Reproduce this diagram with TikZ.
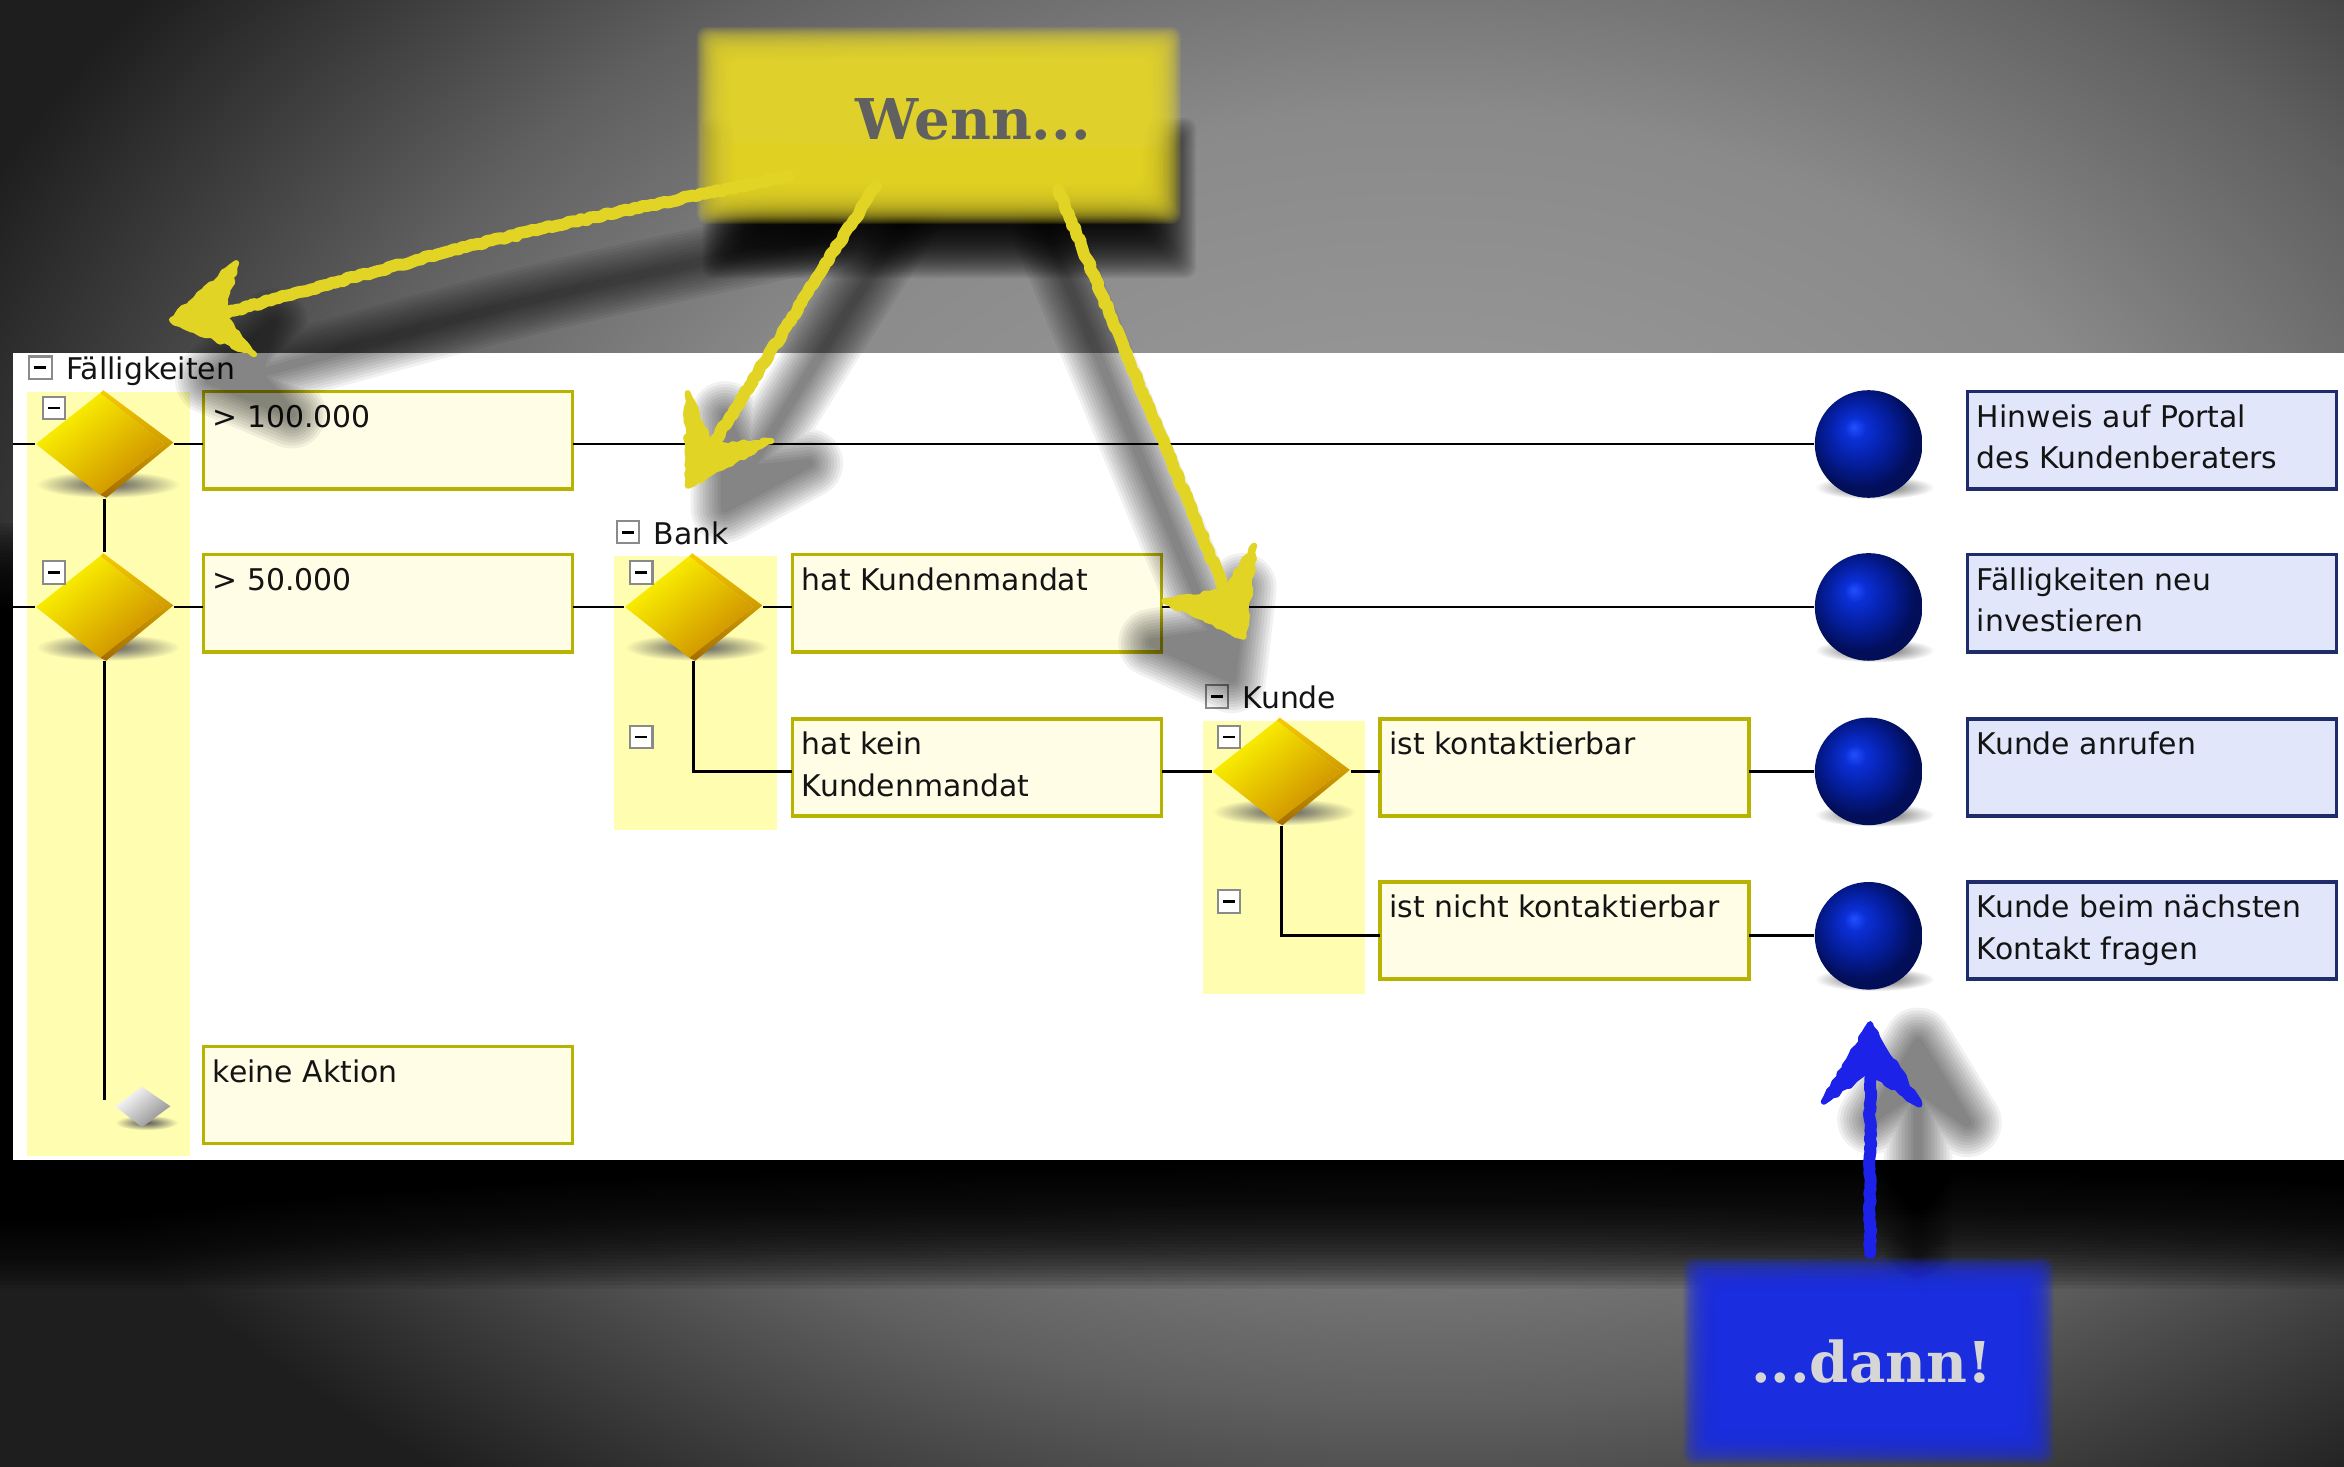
\documentclass[tikz,border=0pt]{standalone}
\usepackage{fontspec}
\setmainfont{DejaVu Sans}
\newfontfamily\slabfont{DejaVu Serif}
\usetikzlibrary{calc,decorations.pathmorphing}

% palette
\definecolor{bgA}{HTML}{A0A0A0}
\definecolor{bgB}{HTML}{8A8A8A}
\definecolor{bgC}{HTML}{606060}
\definecolor{bgE}{HTML}{3A3A3A}
\definecolor{bgD}{HTML}{1E1E1E}
\definecolor{condfill}{HTML}{FFFDE6}
\definecolor{conddraw}{HTML}{B8B200}
\definecolor{actfill}{HTML}{E1E6FA}
\definecolor{actdraw}{HTML}{1E2C6A}
\definecolor{colfill}{HTML}{FFFDB0}
\definecolor{chkgray}{HTML}{8A8A8A}
\definecolor{uitext}{HTML}{141414}
\definecolor{chalk}{HTML}{E2D424}
\definecolor{chalkblue}{HTML}{1C22E8}
\definecolor{wennfill}{HTML}{E9D92B}
\definecolor{wenntext}{HTML}{606060}
\definecolor{dannfill}{HTML}{1A2DE8}
\definecolor{danntext}{HTML}{D6D6D6}
\definecolor{dyA}{HTML}{FFFA00}
\definecolor{dyM}{HTML}{FFD400}
\definecolor{dyB}{HTML}{CC8A00}
\definecolor{dsA}{HTML}{F8CC00}
\definecolor{dsB}{HTML}{A46C00}
\definecolor{sphA}{HTML}{2250FF}
\definecolor{sphB}{HTML}{0B2FD6}
\definecolor{sphC}{HTML}{041C96}
\definecolor{sphD}{HTML}{020E58}
\definecolor{shdark}{HTML}{5A5A5A}

% shadings (the path's bounding box maps onto the inner 25bp radius)
\pgfdeclareradialshading{vignette}{\pgfpoint{0bp}{0bp}}{color(0bp)=(bgA); color(12bp)=(bgB); color(18bp)=(bgC); color(22bp)=(bgE); color(25bp)=(bgD); color(50bp)=(bgD)}
\pgfdeclareradialshading{bluesphere}{\pgfpoint{-7bp}{8bp}}{color(0bp)=(sphA); color(5bp)=(sphB); color(16bp)=(sphC); color(25bp)=(sphD); color(50bp)=(sphD)}
\pgfdeclareradialshading{dropwhite}{\pgfpoint{0bp}{0bp}}{color(0bp)=(shdark); color(11bp)=(shdark!60!white); color(25bp)=(white); color(50bp)=(white)}
\pgfdeclareradialshading{dropyellow}{\pgfpoint{0bp}{0bp}}{color(0bp)=(shdark); color(11bp)=(shdark!60!colfill); color(25bp)=(colfill); color(50bp)=(colfill)}

% one drawing unit = one pixel of a 1568 x 981 grid
\newcommand{\pxu}{0.014949cm}
\newcommand{\uifont}{\fontsize{8.5}{11.8}\selectfont}

% soft-edged rectangle: colour, x1, y1, x2, y2, blur radius, layer opacity
\newcommand{\softbox}[7]{%
  \foreach \k in {-19,...,20}{%
    \fill[#1, opacity=#7, rounded corners=3pt]
      ({#2-(\k)*#6/20},{#3-(\k)*#6/20}) rectangle ({#4+(\k)*#6/20},{#5+(\k)*#6/20});}}

% blurred shadow for a hand-drawn arrow: shaft path, head path
\newcommand{\shadowpass}[2]{%
  \foreach \w in {46,42,38,34,30,26,22,18,14,10,6}{%
    \begin{scope}[transparency group, opacity=0.055]
      \draw[black, line width=\w*\pxu, line cap=round, line join=round] #1;
      \filldraw[black, line width=\w*\pxu, line join=round] #2;
    \end{scope}}}

% 3-D gold decision diamond: name, x, y
\newcommand{\golddiamond}[3]{%
  \shade[shading=dropyellow] (#2+2,#3+27) ellipse [x radius=48, y radius=9];
  \shade[top color=dsA, bottom color=dsB]
    (#2-1,#3-36) -- (#2+46,#3-1) -- (#2+1,#3+36) -- (#2-3,#3+34) -- (#2+40,#3) -- (#2-3,#3-34) -- cycle;
  \shade[top color=dyA, middle color=dyM, bottom color=dyB, shading angle=40]
    (#2-3,#3-34) -- (#2+40,#3) -- (#2-3,#3+34) -- (#2-46,#3) -- cycle;
  \node[pinbox] (#1) at (#2,#3) {};}

% blue result sphere: name, y
\newcommand{\resultsphere}[2]{%
  \shade[shading=dropwhite] (1254,#2+29) ellipse [x radius=40, y radius=8];
  \node[sphere] (#1) at (1250,#2) {};}

% text in the upper left corner of a box
\newcommand{\boxlabel}[2]{\path (#1.north west) ++(6,7) node[boxtext]{\rule{0pt}{7pt}#2};}

\begin{document}
\begin{tikzpicture}[x=\pxu, y=-\pxu,
  conn/.style={draw=black, line width=0.8pt},
  condbox/.style={rectangle, draw=conddraw, fill=condfill, line width=1pt, inner sep=0pt, outer sep=0pt,
    anchor=north west, minimum width=247*\pxu, minimum height=65*\pxu},
  actbox/.style={condbox, draw=actdraw, fill=actfill},
  boxtext/.style={anchor=north west, inner sep=0pt, align=left, font=\uifont, text=uitext},
  hdr/.style={anchor=base west, inner sep=0pt, font=\uifont, text=uitext},
  pinbox/.style={rectangle, inner sep=0pt, minimum width=92*\pxu, minimum height=72*\pxu},
  sphere/.style={circle, inner sep=0pt, minimum size=72*\pxu, shade, shading=bluesphere},
  chk/.style={rectangle, draw=chkgray, fill=white, line width=0.6pt, inner sep=0pt, minimum size=15*\pxu,
    path picture={\draw[line width=0.75pt, black] ($(path picture bounding box.center)+(-4,0)$) -- ++(8,0);}},
  chalkline/.style={draw=chalk, line width=8*\pxu, line cap=round, line join=round,
    decorate, decoration={random steps, segment length=1.2pt, amplitude=0.35pt}},
  chalkhead/.style={fill=chalk, draw=chalk, line width=4*\pxu, line join=round,
    decorate, decoration={random steps, segment length=1.5pt, amplitude=0.5pt}},
  blueline/.style={chalkline, draw=chalkblue, line width=8*\pxu},
  bluehead/.style={chalkhead, fill=chalkblue, draw=chalkblue}]

\useasboundingbox (0,0) rectangle (1568,981);
\clip (0,0) rectangle (1568,981);

% backdrop
\shade[shading=vignette] (-100,-300) rectangle (2000,1140);

% shadow under the panel
\softbox{black}{-60}{400}{1630}{812}{50}{0.085}

% white panel
\fill[white] (9,236) rectangle (1568,776);

% highlighted decision columns
\fill[colfill] (18,262) rectangle (127,773);
\fill[colfill] (411,372) rectangle (520,555);
\fill[colfill] (805,482) rectangle (913,665);

% group headers
\node[chk] (hFc) at (27,246) {};
\node[hdr] (hF) at (44,254) {Fälligkeiten};
\node[chk] (hBc) at (420,356) {};
\node[hdr] (hB) at (437,364) {Bank};
\node[chk] (hKc) at (814,466) {};
\node[hdr] (hK) at (831,474) {Kunde};

% condition boxes
\node[condbox] (c1)  at (136,262) {};
\node[condbox] (c2)  at (136,371) {};
\node[condbox] (c0)  at (136,700) {};
\node[condbox] (hk)  at (530,371) {};
\node[condbox] (hkk) at (530,481) {};
\node[condbox] (ik)  at (923,481) {};
\node[condbox] (ink) at (923,590) {};

% action boxes
\node[actbox] (a1) at (1316,262) {};
\node[actbox] (a2) at (1316,371) {};
\node[actbox] (a3) at (1316,481) {};
\node[actbox] (a4) at (1316,590) {};

% decision diamonds
\golddiamond{d1}{70}{297}
\golddiamond{d2}{70}{406}
\golddiamond{db}{464}{406}
\golddiamond{dk}{857}{516}

% result spheres
\resultsphere{s1}{297}
\resultsphere{s2}{406}
\resultsphere{s3}{516}
\resultsphere{s4}{626}

% connectors
\coordinate (left1) at (9,297);
\coordinate (left2) at (9,406);
\coordinate (colend) at (70,736);
\draw[conn] (left1) -- (d1.west);
\draw[conn] (d1.east) -- (c1.west |- d1);
\draw[conn] (c1.east |- s1) -- (s1.west);
\draw[conn] (left2) -- (d2.west);
\draw[conn] (d2.east) -- (c2.west |- d2);
\draw[conn] (c2.east |- db) -- (db.west);
\draw[conn] (db.east) -- (hk.west |- db);
\draw[conn] (hk.east |- s2) -- (s2.west);
\draw[conn] (d1.south) -- (d2.north);
\draw[conn] (d2.south) -- (colend);
\draw[conn] (db.south) |- (hkk.west |- dk);
\draw[conn] (hkk.east |- dk) -- (dk.west);
\draw[conn] (dk.east) -- (ik.west |- dk);
\draw[conn] (ik.east |- s3) -- (s3.west);
\draw[conn] (dk.south) |- (ink.west |- s4);
\draw[conn] (ink.east |- s4) -- (s4.west);

% empty "no action" marker
\shade[shading=dropyellow] (98,751) ellipse [x radius=21, y radius=5];
\shade[top color=white, bottom color=black!45, shading angle=40] (95,727) -- (114,740) -- (95,754) -- (77,740) -- cycle;
\node[inner sep=0pt, minimum width=37*\pxu, minimum height=27*\pxu] (noact) at (96,741) {};

% row toggles
\node[chk] at (36,273) {};
\node[chk] at (36,383) {};
\node[chk] at (429,383) {};
\node[chk] at (429,493) {};
\node[chk] at (822,493) {};
\node[chk] at (822,603) {};

% box texts
\boxlabel{c1}{> 100.000}
\boxlabel{c2}{> 50.000}
\boxlabel{c0}{keine Aktion}
\boxlabel{hk}{hat Kundenmandat}
\boxlabel{hkk}{hat kein\\Kundenmandat}
\boxlabel{ik}{ist kontaktierbar}
\boxlabel{ink}{ist nicht kontaktierbar}
\boxlabel{a1}{Hinweis auf Portal\\des Kundenberaters}
\boxlabel{a2}{Fälligkeiten neu\\investieren}
\boxlabel{a3}{Kunde anrufen}
\boxlabel{a4}{Kunde beim nächsten\\Kontakt fragen}

% hand-drawn arrow geometry
\coordinate (p1s) at (527,118); \coordinate (p1c) at (335,158); \coordinate (p1n) at (148,210);
\coordinate (p1t) at (115,214); \coordinate (p1u) at (158,176); \coordinate (p1l) at (170,237);
\coordinate (p2s) at (586,124); \coordinate (p2c) at (530,212); \coordinate (p2n) at (476,299);
\coordinate (p2t) at (460,325); \coordinate (p2u) at (460,263); \coordinate (p2r) at (516,295);
\coordinate (p3s) at (708,127); \coordinate (p3c) at (764,262); \coordinate (p3n) at (820,396);
\coordinate (p3t) at (832,426); \coordinate (p3u) at (839,365); \coordinate (p3l) at (779,402);
\coordinate (qs) at (1251,838); \coordinate (qn) at (1251,716);
\coordinate (qt) at (1251,685); \coordinate (ql) at (1220,737); \coordinate (qr) at (1284,739);

% shadows of the arrows
\begin{scope}[transform canvas={shift={(25,40)}}]
  \shadowpass{(p1s) .. controls (p1c) .. (p1n)}{(p1t) -- (p1u) -- (p1n) -- (p1l) -- cycle}
\end{scope}
\begin{scope}[transform canvas={shift={(25,15)}}]
  \shadowpass{(p2s) .. controls (p2c) .. (p2n)}{(p2t) -- (p2u) -- (p2n) -- (p2r) -- cycle}
\end{scope}
\begin{scope}[transform canvas={shift={(-8,28)}}]
  \shadowpass{(p3s) .. controls (p3c) .. (p3n)}{(p3t) -- (p3u) -- (p3n) -- (p3l) -- cycle}
\end{scope}
\begin{scope}[transform canvas={shift={(32,12)}}]
  \shadowpass{(qs) -- (qn)}{(qt) -- (ql) -- (qn) -- (qr) -- cycle}
\end{scope}

% "Wenn..." label
\softbox{black}{496}{105}{774}{160}{26}{0.07}
\softbox{wennfill}{482}{34}{774}{134}{16}{0.1}
\node[font=\slabfont\bfseries\fontsize{16}{18}\selectfont, text=wenntext] (wenn) at (651,80) {Wenn...};

% "...dann!" label
\softbox{dannfill}{1142}{857}{1358}{964}{16}{0.1}
\node[font=\slabfont\bfseries\fontsize{16}{18}\selectfont, text=danntext] (dann) at (1252,911) {...dann!};

% yellow arrows
\draw[chalkline] (p1s) .. controls (p1c) .. (p1n);
\filldraw[chalkhead] (p1t) -- (p1u) -- (p1n) -- (p1l) -- cycle;
\draw[chalkline] (p2s) .. controls (p2c) .. (p2n);
\filldraw[chalkhead] (p2t) -- (p2u) -- (p2n) -- (p2r) -- cycle;
\draw[chalkline] (p3s) .. controls (p3c) .. (p3n);
\filldraw[chalkhead] (p3t) -- (p3u) -- (p3n) -- (p3l) -- cycle;

% blue arrow
\draw[blueline] (qs) -- (qn);
\filldraw[bluehead] (qt) -- (ql) -- (qn) -- (qr) -- cycle;
\end{tikzpicture}
\end{document}
